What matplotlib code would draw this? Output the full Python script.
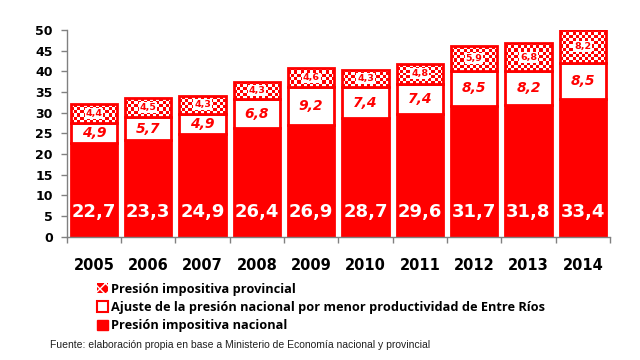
import numpy as np
import matplotlib
matplotlib.use("Agg")
import matplotlib.pyplot as plt
from matplotlib.patches import Patch

years = ["2005", "2006", "2007", "2008", "2009", "2010", "2011", "2012", "2013", "2014"]
nacional = [22.7, 23.3, 24.9, 26.4, 26.9, 28.7, 29.6, 31.7, 31.8, 33.4]
ajuste = [4.9, 5.7, 4.9, 6.8, 9.2, 7.4, 7.4, 8.5, 8.2, 8.5]
provincial = [4.4, 4.5, 4.3, 4.3, 4.6, 4.3, 4.8, 5.9, 6.8, 8.2]
yticks = [0, 5, 10, 15, 20, 25, 30, 35, 40, 45, 50]

legend_labels = ["Presión impositiva provincial",
                 "Ajuste de la presión nacional por menor productividad de Entre Ríos",
                 "Presión impositiva nacional"]
source = "Fuente: elaboración propia en base a Ministerio de Economía nacional y provincial"

RED = "#ff0000"
W, H = 640, 360
fig = plt.figure(figsize=(6.4, 3.6), dpi=100)
ax_l, ax_r, ax_b, ax_t = 66.7 / W, 610 / W, (H - 236.7) / H, (H - 30) / H
ax = fig.add_axes([ax_l, ax_b, ax_r - ax_l, ax_t - ax_b])

x = np.arange(len(years))
bw = 0.85
nac = np.array(nacional)
aj = np.array(ajuste)
pr = np.array(provincial)

b1 = ax.bar(x, nac, bw, color=RED, edgecolor=RED, linewidth=2, zorder=2)
b2 = ax.bar(x, aj, bw, bottom=nac, color="white", edgecolor=RED, linewidth=2, zorder=2)
b3 = ax.bar(x, pr, bw, bottom=nac + aj, facecolor="none", edgecolor=RED, linewidth=2, zorder=3)

ax.set_xlim(-0.5, len(years) - 0.5)
ax.set_ylim(0, 50)

# checker pattern for provincial segments
px_per_x = (ax_r - ax_l) * W / len(years)
px_per_y = (ax_t - ax_b) * H / 50.0
cell = 3.0
for p in b3.patches:
    x0, y0, w, h = p.get_x(), p.get_y(), p.get_width(), p.get_height()
    nc = max(2, int(round(w * px_per_x / cell)))
    nr = max(2, int(round(h * px_per_y / cell)))
    chk = (np.add.outer(np.arange(nr), np.arange(nc)) % 2).astype(float)
    rgb = np.ones((nr, nc, 3))
    rgb[chk == 1] = [1, 0, 0]
    im = ax.imshow(rgb, extent=(x0, x0 + w, y0, y0 + h), aspect="auto",
                   interpolation="nearest", zorder=2.5)
    im.set_clip_path(p)

ax.set_xlim(-0.5, len(years) - 0.5)
ax.set_ylim(0, 50)

def fmt(v):
    return f"{v:.1f}".replace(".", ",")

for i in range(len(years)):
    ax.text(x[i], 6.0, fmt(nac[i]), ha="center", va="center", color="white",
            fontsize=13, fontweight="bold", zorder=5)
    ax.text(x[i], nac[i] + aj[i] / 2, fmt(aj[i]), ha="center", va="center", color=RED,
            fontsize=10, fontweight="bold", fontstyle="italic", zorder=5)
    ax.text(x[i], nac[i] + aj[i] + pr[i] / 2, fmt(pr[i]), ha="center", va="center", color=RED,
            fontsize=6.8, fontweight="bold", zorder=5,
            bbox=dict(facecolor="white", edgecolor="none", pad=0.6))

for s in ["top", "right"]:
    ax.spines[s].set_visible(False)
for s in ["left", "bottom"]:
    ax.spines[s].set_color("#808080")
    ax.spines[s].set_linewidth(1)

ax.set_yticks(yticks)
ax.set_yticklabels([str(t) for t in yticks], fontsize=9, fontweight="bold")
ax.tick_params(axis="y", length=4, width=1, color="#808080", pad=6)
ax.set_xticks(x)
ax.set_xticklabels(years, fontsize=10.5, fontweight="bold")
ax.tick_params(axis="x", which="major", length=0, pad=15)
ax.set_xticks(np.arange(-0.5, len(years), 1), minor=True)
ax.tick_params(axis="x", which="minor", length=4, width=1, color="#808080")

handles = [Patch(facecolor=RED, edgecolor="white", hatch="xxx", linewidth=0),
           Patch(facecolor="white", edgecolor=RED, linewidth=1.5),
           Patch(facecolor=RED, edgecolor=RED)]
fig.legend(handles, legend_labels, loc="upper left",
           bbox_to_anchor=(97 / W, 1 - 282.5 / H), frameon=False,
           prop={"family": "Open Sans", "weight": "bold", "size": 9.2},
           handlelength=0.85, handleheight=0.85, handletextpad=0.25,
           labelspacing=0.42, borderpad=0, borderaxespad=0)

fig.text(50 / W, 1 - 345 / H, source, fontsize=7.45, family="Liberation Sans",
         color="#202020", va="center", ha="left")

fig.savefig("out.png", dpi=100)
